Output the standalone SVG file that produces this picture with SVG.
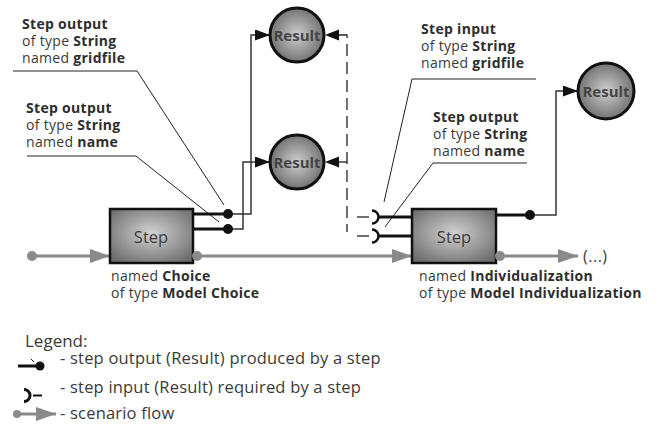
<svg xmlns="http://www.w3.org/2000/svg" width="659" height="426" viewBox="0 0 659 426">
<style>
text{font-family:"Open Sans","Noto Sans","DejaVu Sans",sans-serif;fill:#3a3a3a}
.lbl{font-size:14px;letter-spacing:0.3px}
.b{font-weight:bold;fill:#2e2e2e}
.stept{font-size:16.5px;fill:#3c3c3c;text-anchor:middle}
.rest{font-size:15px;font-weight:bold;fill:#444;text-anchor:middle}
.box{fill:url(#gBox);stroke:#111;stroke-width:2.5}
.res{fill:url(#gRes);stroke:#111;stroke-width:3}
.lead{fill:none;stroke:#222;stroke-width:1}
.out{fill:none;stroke:#111;stroke-width:3}
.thin{fill:none;stroke:#333;stroke-width:1.5}
.dash{fill:none;stroke:#222;stroke-width:1.3;stroke-dasharray:12 6}
.flow{fill:none;stroke:#8a8a8a;stroke-width:3}
.dot{fill:#111}
.gdot{fill:#8a8a8a}
.arc{fill:none;stroke:#111;stroke-width:2.5}
.ah{fill:#111}
.leg{font-size:16.5px;letter-spacing:0.2px}
</style>
<defs>
<radialGradient id="gBox" cx="50%" cy="45%" r="65%">
<stop offset="0" stop-color="#d2d2d2"/>
<stop offset="1" stop-color="#6c6c6c"/>
</radialGradient>
<radialGradient id="gRes" cx="50%" cy="50%" r="55%">
<stop offset="0" stop-color="#cfcfcf"/>
<stop offset="1" stop-color="#6a6a6a"/>
</radialGradient>
<marker id="aBlack" markerUnits="userSpaceOnUse" markerWidth="15" markerHeight="11" refX="15" refY="5.5" orient="auto">
<path d="M0,0 L15,5.5 L0,11 z" fill="#111"/>
</marker>
<marker id="aGray" markerUnits="userSpaceOnUse" markerWidth="20" markerHeight="14" refX="20" refY="7" orient="auto">
<path d="M0,0 L20,7 L0,14 z" fill="#8a8a8a"/>
</marker>
</defs>

<g id="connectors">
<path class="lead" d="M13 71 H137 L224 205"/>
<path class="lead" d="M27 156 H136 L219 222"/>
<path class="lead" d="M536 79 H412 L384 202"/>
<path class="lead" d="M527 163 H433 L385 227"/>
<path class="flow" d="M32 256 H110" marker-end="url(#aGray)"/>
<path class="flow" d="M197 256 H412" marker-end="url(#aGray)"/>
<path class="flow" d="M500 256 H578" marker-end="url(#aGray)"/>
<circle class="gdot" cx="32" cy="256" r="5"/>
<path class="out" d="M193 214 H228"/>
<path class="out" d="M193 229 H228"/>
<path class="out" d="M496 215 H530"/>
<path class="thin" d="M228 214 H251 V35 H270" marker-end="url(#aBlack)"/>
<path class="thin" d="M228 229 H243 V162 H270" marker-end="url(#aBlack)"/>
<path class="thin" d="M530 215 H556 V91 H578" marker-end="url(#aBlack)"/>
<path class="dash" d="M338 35 H347 V232"/>
<path class="dash" d="M338 162 H347"/>
<path class="dash" d="M357 217 H369"/>
<path class="dash" d="M357 236 H369"/>
<polygon class="ah" points="325,35 339,29.5 339,40.5"/>
<polygon class="ah" points="325,162 339,156.5 339,167.5"/>
<path class="arc" d="M372 210.5 A6.5 6.5 0 0 1 372 223.5"/>
<path class="arc" d="M372 229.5 A6.5 6.5 0 0 1 372 242.5"/>
<path class="out" d="M378 217 H412"/>
<path class="out" d="M378 236 H412"/>
</g>

<g id="step-choice">
<rect class="box" x="110" y="209" width="83" height="54"/>
<text class="stept" x="151" y="243">Step</text>
<circle class="gdot" cx="197" cy="256" r="5"/>
<circle class="dot" cx="228" cy="214" r="5"/>
<circle class="dot" cx="228" cy="229" r="5"/>
<text class="lbl" x="111" y="281">named <tspan class="b">Choice</tspan></text>
<text class="lbl" x="111" y="298">of type <tspan class="b">Model Choice</tspan></text>
</g>

<g id="step-individualization">
<rect class="box" x="412" y="209" width="84" height="54"/>
<text class="stept" x="454" y="243">Step</text>
<circle class="gdot" cx="500" cy="256" r="5"/>
<circle class="dot" cx="530" cy="215" r="5"/>
<text class="lbl" x="419" y="281">named <tspan class="b">Individualization</tspan></text>
<text class="lbl" x="419" y="298">of type <tspan class="b">Model Individualization</tspan></text>
<text x="583" y="262" style="font-size:16px;letter-spacing:0.5px">(...)</text>
</g>

<g id="result-gridfile">
<circle class="res" cx="297" cy="35" r="27"/>
<text class="rest" x="297" y="40.5">Result</text>
</g>
<g id="result-name">
<circle class="res" cx="297" cy="162" r="27"/>
<text class="rest" x="297" y="167.5">Result</text>
</g>
<g id="result-individualization">
<circle class="res" cx="606" cy="91" r="28"/>
<text class="rest" x="606" y="96.5">Result</text>
</g>

<g id="label-out-gridfile">
<text class="lbl" x="22" y="29"><tspan class="b">Step output</tspan></text>
<text class="lbl" x="22" y="46">of type <tspan class="b">String</tspan></text>
<text class="lbl" x="22" y="63">named <tspan class="b">gridfile</tspan></text>
</g>
<g id="label-out-name">
<text class="lbl" x="26" y="113"><tspan class="b">Step output</tspan></text>
<text class="lbl" x="26" y="130">of type <tspan class="b">String</tspan></text>
<text class="lbl" x="26" y="147">named <tspan class="b">name</tspan></text>
</g>
<g id="label-in-gridfile">
<text class="lbl" x="421" y="34"><tspan class="b">Step input</tspan></text>
<text class="lbl" x="421" y="51">of type <tspan class="b">String</tspan></text>
<text class="lbl" x="421" y="68">named <tspan class="b">gridfile</tspan></text>
</g>
<g id="label-out-name-2">
<text class="lbl" x="433" y="122"><tspan class="b">Step output</tspan></text>
<text class="lbl" x="433" y="139">of type <tspan class="b">String</tspan></text>
<text class="lbl" x="433" y="156">named <tspan class="b">name</tspan></text>
</g>

<g id="legend">
<text x="25" y="347" style="font-size:17px">Legend:</text>
<path class="out" d="M18 366 H36"/>
<path class="lead" d="M31 359 L34 362"/>
<circle class="dot" cx="40" cy="366" r="4.5"/>
<text class="leg" x="60" y="364">- step output (Result) produced by a step</text>
<path fill="none" stroke="#111" stroke-width="3" d="M24 389.5 A6 6 0 0 1 24 401.5"/>
<path fill="none" stroke="#111" stroke-width="2" d="M33 395.5 H42"/>
<text class="leg" x="60" y="393">- step input (Result) required by a step</text>
<path class="flow" d="M17 414 H56" marker-end="url(#aGray)"/>
<circle class="gdot" cx="17" cy="414" r="4"/>
<text class="leg" x="60" y="419">- scenario flow</text>
</g>
</svg>
